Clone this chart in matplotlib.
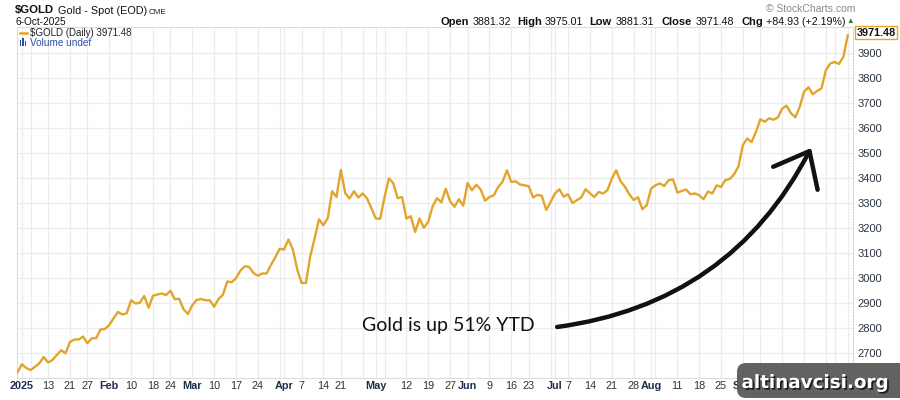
import numpy as np
import pandas as pd
import matplotlib
matplotlib.use('Agg')
import matplotlib.pyplot as plt
import matplotlib.patheffects as pe
from matplotlib.patches import FancyBboxPatch, Rectangle
from matplotlib.transforms import IdentityTransform

plt.rcParams['font.family'] = ['Liberation Sans', 'DejaVu Sans']

# daily closes, last session of 2024 then 2025 month by month
dec_2024 = [2624]
jan = [2656, 2641, 2633, 2646, 2660, 2685, 2663, 2673, 2693, 2712, 2700, 2745, 2755, 2755, 2767, 2740,
       2760, 2760, 2795, 2797]
feb = [2813, 2840, 2865, 2855, 2860, 2912, 2899, 2902, 2929, 2882, 2930, 2935, 2939, 2933, 2950, 2916,
       2918, 2876, 2857]
mar = [2892, 2913, 2917, 2912, 2912, 2886, 2917, 2934, 2987, 2984, 3000, 3030, 3048, 3045, 3021, 3010,
       3019, 3019, 3053, 3084, 3118]
apr = [3115, 3155, 3116, 3037, 2981, 2981, 3088, 3160, 3236, 3212, 3240, 3348, 3325, 3433, 3340, 3319,
       3348, 3323, 3339, 3319, 3280]
may = [3239, 3238, 3325, 3400, 3380, 3320, 3325, 3239, 3248, 3185, 3239, 3202, 3226, 3288, 3320, 3304,
       3358, 3308, 3286, 3316, 3290]
jun = [3381, 3352, 3374, 3355, 3310, 3325, 3332, 3365, 3386, 3432, 3385, 3388, 3375, 3372, 3368, 3323,
       3334, 3329, 3273, 3305]
jul = [3339, 3356, 3326, 3336, 3301, 3312, 3323, 3356, 3340, 3325, 3345, 3339, 3352, 3398, 3432, 3388,
       3366, 3336, 3313, 3324, 3276, 3292]
aug = [3359, 3372, 3379, 3369, 3392, 3396, 3343, 3349, 3355, 3336, 3339, 3332, 3316, 3347, 3339, 3372,
       3365, 3393, 3397, 3416, 3448]
sep = [3533, 3559, 3545, 3586, 3636, 3626, 3640, 3634, 3643, 3679, 3690, 3660, 3644, 3685, 3746, 3764,
       3736, 3749, 3760, 3833, 3859]
oct_ = [3865, 3857, 3886, 3971.48]

holidays = ['2025-01-01', '2025-01-09', '2025-01-20', '2025-02-17', '2025-04-18',
            '2025-05-26', '2025-06-19', '2025-07-04', '2025-09-01']

tick_dates = ['2025-01-02', '2025-01-13', '2025-01-21', '2025-01-27', '2025-02-03', '2025-02-10',
              '2025-02-18', '2025-02-24', '2025-03-03', '2025-03-10', '2025-03-17', '2025-03-24',
              '2025-04-01', '2025-04-07', '2025-04-14', '2025-04-21', '2025-05-01', '2025-05-12',
              '2025-05-19', '2025-05-27', '2025-06-02', '2025-06-09', '2025-06-16', '2025-06-23',
              '2025-07-01', '2025-07-07', '2025-07-14', '2025-07-21', '2025-07-28', '2025-08-01',
              '2025-08-11', '2025-08-18', '2025-08-25', '2025-09-02']
tick_labels = ['2025', '13', '21', '27', 'Feb', '10', '18', '24', 'Mar', '10', '17', '24',
               'Apr', '7', '14', '21', 'May', '12', '19', '27', 'Jun', '9', '16', '23',
               'Jul', '7', '14', '21', '28', 'Aug', '11', '18', '25', 'Sep']

price_ticks = [2700, 2800, 2900, 3000, 3100, 3200, 3300, 3400, 3500, 3600, 3700, 3800, 3900]

quote = {'Open': '3881.32', 'High': '3975.01', 'Low': '3881.31', 'Close': '3971.48',
         'Chg': '+84.93 (+2.19%)'}

prices = np.array(dec_2024 + jan + feb + mar + apr + may + jun + jul + aug + sep + oct_)
days = pd.bdate_range('2024-12-31', '2025-10-06', freq='C', holidays=holidays)
x = np.arange(len(days))

gold = '#e1a52b'
grid_c = '#ececec'

fig = plt.figure(figsize=(9, 4), dpi=100)
ax = fig.add_axes([16.7 / 900, 22 / 400, (853 - 16.7) / 900, (378 - 27) / 400])

ax.plot(x, prices, color=gold, lw=1.7, solid_joinstyle='round', zorder=3)
ax.set_xlim(-0.18, 191.2)
ax.set_ylim(2601, 4005)

# weekly / monthly grid lines, labels only where StockCharts prints them
week = days.isocalendar().week.values
grid_idx = [i for i in range(1, len(days))
            if week[i] != week[i - 1] or days[i].month != days[i - 1].month]
tick_idx = days.get_indexer(pd.to_datetime(tick_dates))
ax.set_xticks(grid_idx, minor=True)
ax.set_xticks(tick_idx)
ax.set_xticklabels(tick_labels)
for lab in ax.get_xticklabels():
    if not lab.get_text().isdigit() or lab.get_text() == '2025':
        lab.set_fontweight('bold')
        lab.set_color('#1f2d4d')
    else:
        lab.set_color('#333333')
ax.tick_params(axis='x', which='both', length=0, pad=2, labelsize=7.8)

ax.yaxis.tick_right()
ax.set_yticks(price_ticks)
ax.tick_params(axis='y', length=0, pad=3, labelsize=8, labelcolor='#2a3440')
ax.grid(True, which='both', color=grid_c, lw=0.9)
ax.set_axisbelow(True)
for s in ['left', 'top', 'bottom']:
    ax.spines[s].set_color('#dcdcdc')
    ax.spines[s].set_linewidth(0.8)
ax.spines['right'].set_color('#cccccc')
ax.spines['right'].set_linestyle(':')
ax.spines['right'].set_linewidth(0.8)

# last price tag
ax.annotate(f'{prices[-1]:.2f}', xy=(1.0, prices[-1]), xycoords=('axes fraction', 'data'),
            xytext=(2.5, 2), textcoords='offset points', ha='left', va='center',
            fontsize=7.8, fontweight='bold', color='#111111',
            bbox=dict(boxstyle='square,pad=0.12', fc='white', ec=gold, lw=1.0))

# annotation
ax.text(98.7, 2813, 'Gold is up 51% YTD', family=['Lato', 'DejaVu Sans'], fontsize=14,
        ha='center', va='center', color='#111111')
ax.annotate('', xy=(181.6, 3521), xytext=(123.5, 2805),
            arrowprops=dict(arrowstyle='->,head_length=1.1,head_width=0.9',
                            connectionstyle='arc3,rad=0.26', lw=3.2, color='#111111',
                            mutation_scale=20, shrinkA=0, shrinkB=0, capstyle='round'))

# header
px = IdentityTransform()
fig.text(15, 400 - 13.5, '$GOLD', transform=px, fontsize=8.2, fontweight='bold', color='#111111')
fig.text(58, 400 - 13.5, 'Gold - Spot (EOD)', transform=px, fontsize=7.8, color='#111111')
fig.text(149, 400 - 13.5, 'CME', transform=px, fontsize=5.8, color='#222222')
fig.text(16, 400 - 25, '6-Oct-2025', transform=px, fontsize=7.3, color='#111111')
fig.add_artist(plt.Line2D([19.5, 26.5], [400 - 33.3, 400 - 33.3], transform=px, color=gold, lw=1.8))
fig.text(29.7, 400 - 36.5, '$GOLD (Daily) 3971.48', transform=px, fontsize=7, color='#222222')
for bx, bh in [(19.5, 6), (22.0, 8), (24.5, 5)]:
    fig.add_artist(Rectangle((bx, 400 - 46), 1.8, bh, transform=px, color='#2b4fa0', lw=0))
fig.text(30, 400 - 45.5, 'Volume undef', transform=px, fontsize=7.2, color='#2b4fa0')

fig.text(855, 400 - 12.5, '\u00a9 StockCharts.com', transform=px, fontsize=7.5, color='#8a8a8a',
         ha='right')
hx = {'Open': (440.7, 472.7), 'High': (517.3, 544.3), 'Low': (589.3, 616), 'Close': (661, 696),
      'Chg': (741, 765.7)}
for key, val in quote.items():
    fig.text(hx[key][0], 400 - 25, key, transform=px, fontsize=8, fontweight='bold', color='#111111')
    fig.text(hx[key][1], 400 - 25, val, transform=px, fontsize=7.7, color='#111111')
fig.text(850, 400 - 21.5, '\u25b2', transform=px, fontsize=5.5, color='#2e7d32', ha='center',
         va='center')

# watermark
fig.add_artist(FancyBboxPatch((737, 2), 175, 35, boxstyle='round,pad=0,rounding_size=9',
                              transform=px, fc='#5a5a5a', ec='none', alpha=0.95, zorder=10))
fig.text(815, 400 - 388, 'altinavcisi.org', transform=px, family='DejaVu Sans', fontsize=13.2,
         fontweight='bold', color='white', ha='center', va='baseline', zorder=11,
         path_effects=[pe.withSimplePatchShadow(offset=(1.2, -1.2), shadow_rgbFace='black', alpha=0.7)])

fig.savefig('out.png', dpi=100)
